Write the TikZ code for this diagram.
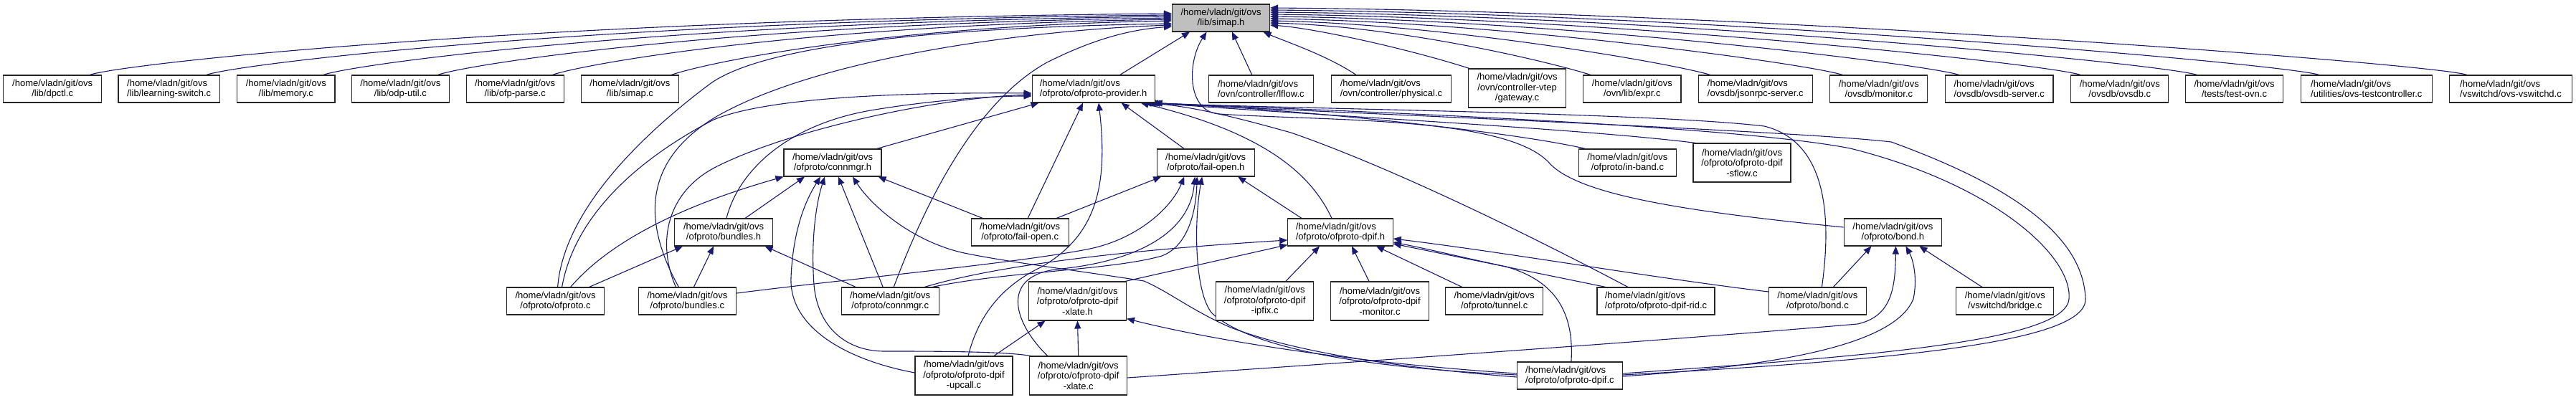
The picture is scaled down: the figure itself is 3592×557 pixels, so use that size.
\documentclass[tikz,border=0pt]{standalone}
\usepackage{fontspec}
\setmainfont{Liberation Sans}
\usetikzlibrary{arrows.meta}
\definecolor{navy}{HTML}{191970}
\definecolor{boxgray}{HTML}{BFBFBF}
\newcommand\nodefont{\fontsize{13}{14.5}\selectfont}
\pgfdeclarelayer{bg}
\pgfsetlayers{bg,main}
\tikzset{
  box/.style={draw=black!85, line width=1.1pt, fill=white, rectangle, inner sep=0pt,
              minimum height=38pt, align=center, font=\nodefont},
  box3/.style={box, minimum height=54pt},
  inc/.style={draw=navy, line width=1.1pt, -{Triangle[length=11pt,width=9pt]}},
}
\begin{document}
\begin{tikzpicture}[x=1pt,y=1pt]
\useasboundingbox (0,0) rectangle (3592,557);

% ---- row 0
\node[box, fill=boxgray, minimum width=136pt] (simaph) at (1702.5,532) {/home/vladn/git/ovs\\/lib/simap.h};
% ---- row 1
\node[box, minimum width=137pt] (dpctl) at (73.2,433) {/home/vladn/git/ovs\\/lib/dpctl.c};
\node[box, minimum width=141.5pt, align=left] (lswitch) at (235.7,433) {/home/vladn/git/ovs\\/lib/learning-switch.c};
\node[box, minimum width=136.4pt] (memory) at (398.8,433) {/home/vladn/git/ovs\\/lib/memory.c};
\node[box, minimum width=136.2pt] (odputil) at (558.4,433) {/home/vladn/git/ovs\\/lib/odp-util.c};
\node[box, minimum width=136pt] (ofpparse) at (718.2,433) {/home/vladn/git/ovs\\/lib/ofp-parse.c};
\node[box, minimum width=136pt] (simapc) at (878.4,433) {/home/vladn/git/ovs\\/lib/simap.c};
\node[box, minimum width=171pt, align=left] (provider) at (1524.6,433) {/home/vladn/git/ovs\\/ofproto/ofproto-provider.h};
\node[box, minimum width=146.4pt, align=left] (lflow) at (1758.4,433) {/home/vladn/git/ovs\\/ovn/controller/lflow.c};
\node[box, minimum width=167pt, align=left] (physical) at (1940,433) {/home/vladn/git/ovs\\/ovn/controller/physical.c};
\node[box3, minimum width=136pt] (gateway) at (2115.5,434) {/home/vladn/git/ovs\\/ovn/controller-vtep\\/gateway.c};
\node[box, minimum width=136.4pt] (expr) at (2275.8,433) {/home/vladn/git/ovs\\/ovn/lib/expr.c};
\node[box, minimum width=159pt, align=left] (jsonrpc) at (2447.8,433) {/home/vladn/git/ovs\\/ovsdb/jsonrpc-server.c};
\node[box, minimum width=136pt] (ovsdbmon) at (2619.8,433) {/home/vladn/git/ovs\\/ovsdb/monitor.c};
\node[box, minimum width=150.6pt, align=left] (ovsdbserver) at (2787.7,433) {/home/vladn/git/ovs\\/ovsdb/ovsdb-server.c};
\node[box, minimum width=136pt] (ovsdbc) at (2955.8,433) {/home/vladn/git/ovs\\/ovsdb/ovsdb.c};
\node[box, minimum width=136.7pt] (testovn) at (3115.5,433) {/home/vladn/git/ovs\\/tests/test-ovn.c};
\node[box, minimum width=182.8pt, align=left] (testctl) at (3299.8,433) {/home/vladn/git/ovs\\/utilities/ovs-testcontroller.c};
\node[box, minimum width=171pt, align=left] (vswitchd) at (3501,433) {/home/vladn/git/ovs\\/vswitchd/ovs-vswitchd.c};
% ---- row 2
\node[box, minimum width=136pt] (connmgrh) at (1161,330) {/home/vladn/git/ovs\\/ofproto/connmgr.h};
\node[box, minimum width=136pt] (failopenh) at (1681.2,330) {/home/vladn/git/ovs\\/ofproto/fail-open.h};
\node[box, minimum width=136pt] (inband) at (2269.4,330) {/home/vladn/git/ovs\\/ofproto/in-band.c};
\node[box3, minimum width=136pt] (sflow) at (2429,330) {/home/vladn/git/ovs\\/ofproto/ofproto-dpif\\-sflow.c};
% ---- row 3
\node[box, minimum width=136.5pt] (bundlesh) at (1009,233) {/home/vladn/git/ovs\\/ofproto/bundles.h};
\node[box, minimum width=136pt] (failopenc) at (1422.2,233) {/home/vladn/git/ovs\\/ofproto/fail-open.c};
\node[box, minimum width=146.4pt, align=left] (dpifh) at (1869,233) {/home/vladn/git/ovs\\/ofproto/ofproto-dpif.h};
\node[box, minimum width=136.4pt] (bondh) at (2639.4,233) {/home/vladn/git/ovs\\/ofproto/bond.h};
% ---- row 4
\node[box, minimum width=136.4pt] (ofprotoc) at (774.6,137) {/home/vladn/git/ovs\\/ofproto/ofproto.c};
\node[box, minimum width=136.4pt] (bundlesc) at (958.4,137) {/home/vladn/git/ovs\\/ofproto/bundles.c};
\node[box, minimum width=136pt] (connmgrc) at (1241.2,137) {/home/vladn/git/ovs\\/ofproto/connmgr.c};
\node[box3, minimum width=136pt] (xlateh) at (1502.5,137) {/home/vladn/git/ovs\\/ofproto/ofproto-dpif\\-xlate.h};
\node[box3, minimum width=136pt] (ipfix) at (1763.7,137) {/home/vladn/git/ovs\\/ofproto/ofproto-dpif\\-ipfix.c};
\node[box3, minimum width=136.5pt] (monitor) at (1924,137) {/home/vladn/git/ovs\\/ofproto/ofproto-dpif\\-monitor.c};
\node[box, minimum width=136.4pt] (tunnel) at (2083.7,137) {/home/vladn/git/ovs\\/ofproto/tunnel.c};
\node[box, minimum width=164pt, align=left] (rid) at (2309,137) {/home/vladn/git/ovs\\/ofproto/ofproto-dpif-rid.c};
\node[box, minimum width=136pt] (bondc) at (2534.4,137) {/home/vladn/git/ovs\\/ofproto/bond.c};
\node[box, minimum width=136pt] (bridge) at (2795.8,137) {/home/vladn/git/ovs\\/vswitchd/bridge.c};
% ---- row 5
\node[box3, minimum width=136pt] (upcall) at (1344,33) {/home/vladn/git/ovs\\/ofproto/ofproto-dpif\\-upcall.c};
\node[box3, minimum width=136pt] (xlatec) at (1503.7,33) {/home/vladn/git/ovs\\/ofproto/ofproto-dpif\\-xlate.c};
\node[box, minimum width=146.7pt, align=left] (dpifc) at (2188.9,33) {/home/vladn/git/ovs\\/ofproto/ofproto-dpif.c};

\begin{pgfonlayer}{bg}
\fill[white] (0,0) rectangle (3592,557);
% ===== into simap.h, from the left
\draw[inc] ([xshift=52pt]dpctl.north) .. controls (170,468) and (730,530) .. ([yshift=6pt]simaph.west);
\draw[inc] ([xshift=52pt]lswitch.north) .. controls (333,468) and (826,528) .. ([yshift=4pt]simaph.west);
\draw[inc] ([xshift=52pt]memory.north) .. controls (496,468) and (924,526) .. ([yshift=2pt]simaph.west);
\draw[inc] ([xshift=52pt]odputil.north) .. controls (655,468) and (1020,524) .. (simaph.west);
\draw[inc] ([xshift=52pt]ofpparse.north) .. controls (815,468) and (1116,522) .. ([yshift=-2pt]simaph.west);
\draw[inc] ([xshift=57.6pt]simapc.north) .. controls (981,468) and (1215,520) .. ([yshift=-4pt]simaph.west);
\draw[inc] ([xshift=3pt]ofprotoc.north) .. controls (785,250) and (870,350) .. (990,440)
   .. controls (1080,505) and (1400,520) .. ([yshift=-8pt]simaph.west);
\draw[inc] ([xshift=-12pt]bundlesc.north) .. controls (900,240) and (890,330) .. (1000,395)
   .. controls (1150,480) and (1450,516) .. ([yshift=-10pt]simaph.west);
\draw[inc] ([xshift=5pt]connmgrc.north) .. controls (1300,300) and (1370,420) .. (1460,470)
   .. controls (1530,505) and (1580,516) .. ([yshift=-12pt]simaph.west);
% ===== into simap.h, from below
\draw[inc] ([xshift=37pt]provider.north) -- ([xshift=-43.5pt]simaph.south);
\draw[inc] ([xshift=-12.7pt]lflow.north) -- ([xshift=15.5pt]simaph.south);
\draw[inc] ([xshift=-49pt]physical.north) .. controls (1850,480) and (1790,500) .. ([xshift=59pt]simaph.south);
\draw[inc] ([yshift=7pt]bondh.west) .. controls (2350,262) and (2200,285) .. (2160,330)
   .. controls (2100,395) and (1850,388) .. (1700,398)
   .. controls (1655,401) and (1655,470) .. ([xshift=-20pt]simaph.south);
% ===== into simap.h, from the right
\draw[inc] ([xshift=2pt]gateway.north west) .. controls (1960,490) and (1830,518) .. ([yshift=-10pt]simaph.east);
\draw[inc] ([xshift=11pt]expr.north west) .. controls (2170,468) and (1960,520) .. ([yshift=-7pt]simaph.east);
\draw[inc] ([xshift=17pt]jsonrpc.north west) .. controls (2335,468) and (2020,523) .. ([yshift=-4pt]simaph.east);
\draw[inc] ([xshift=18pt]ovsdbmon.north west) .. controls (2520,468) and (2100,526) .. ([yshift=-1pt]simaph.east);
\draw[inc] ([xshift=20pt]ovsdbserver.north west) .. controls (2682,468) and (2180,529) .. ([yshift=2pt]simaph.east);
\draw[inc] ([xshift=14pt]ovsdbc.north west) .. controls (2852,468) and (2250,532) .. ([yshift=5pt]simaph.east);
\draw[inc] ([xshift=17pt]testovn.north west) .. controls (3014,468) and (2320,535) .. ([yshift=8pt]simaph.east);
\draw[inc] ([xshift=26pt]testctl.north west) .. controls (3184,468) and (2380,538) .. ([yshift=11pt]simaph.east);
\draw[inc] ([xshift=25pt]vswitchd.north west) .. controls (3395,468) and (2438,541) .. ([yshift=14pt]simaph.east);

% ===== into ofproto-provider.h
\draw[inc] ([xshift=9pt]ofprotoc.north) .. controls (800,250) and (880,330) .. (995,390)
   .. controls (1080,425) and (1300,428) .. ([yshift=-6pt]provider.west);
\draw[inc] ([xshift=-16pt]bundlesc.north) .. controls (915,220) and (930,290) .. (1000,325)
   .. controls (1100,375) and (1300,420) .. ([yshift=-8pt]provider.west);
\draw[inc] ([xshift=4pt]bundlesh.north) .. controls (1030,320) and (1100,385) .. (1220,404)
   .. controls (1300,417) and (1380,423) .. ([yshift=-10pt]provider.west);
\draw[inc] ([xshift=-7pt]connmgrh.north east) -- ([xshift=10pt]provider.south west);
\draw[inc] ([xshift=11pt]failopenc.north) -- ([xshift=-14.6pt]provider.south);
\draw[inc] ([xshift=-30pt]failopenh.north) -- ([xshift=39pt]provider.south);
\draw[inc] ([xshift=6pt]upcall.north) .. controls (1365,120) and (1400,160) .. (1453,185)
   .. controls (1530,230) and (1545,300) .. ([xshift=7.4pt]provider.south);
\draw[inc] ([xshift=10pt]inband.north west) .. controls (2100,375) and (1800,405) .. ([xshift=-1pt]provider.south east);
\draw[inc] ([xshift=4pt]sflow.north west) .. controls (2200,378) and (1850,395) .. ([xshift=-4pt]provider.south east);
\draw[inc] ([xshift=-12pt]dpifh.north) .. controls (1830,310) and (1770,370) .. ([xshift=-20pt]provider.south east);
\draw[inc] ([xshift=-39pt]rid.north) .. controls (2150,220) and (1950,320) .. (1800,372)
   .. controls (1700,400) and (1650,410) .. ([xshift=-16pt]provider.south east);
\draw[inc] ([xshift=6pt]bondc.north) .. controls (2555,260) and (2545,360) .. (2460,381)
   .. controls (2300,400) and (1800,405) .. ([xshift=-7pt]provider.south east);
\draw[inc] ([yshift=3pt]dpifc.east) .. controls (2600,60) and (2880,80) .. (2885,140)
   .. controls (2890,200) and (2780,300) .. (2580,350)
   .. controls (2400,385) and (1800,405) .. ([xshift=-10pt]provider.south east);
\draw[inc] ([yshift=1pt]dpifc.east) .. controls (2650,55) and (2910,80) .. (2908,140)
   .. controls (2905,230) and (2800,300) .. (2637,359)
   .. controls (2500,375) and (1850,400) .. ([xshift=-13pt]provider.south east);

% ===== into connmgr.h
\draw[inc] ([xshift=21pt]ofprotoc.north) .. controls (850,220) and (950,270) .. (connmgrh.south west);
\draw[inc] ([xshift=30pt]bundlesh.north) -- ([xshift=-39pt]connmgrh.south);
\draw[inc] ([yshift=4pt]upcall.west) .. controls (1180,55) and (1100,100) .. (1103,170)
   .. controls (1106,240) and (1125,280) .. ([xshift=-17pt]connmgrh.south);
\draw[inc] ([xshift=2pt]xlatec.north west) .. controls (1400,67) and (1300,67) .. (1231,67)
   .. controls (1180,68) and (1140,100) .. (1135,160)
   .. controls (1130,230) and (1140,280) .. ([xshift=-11pt]connmgrh.south);
\draw[inc] ([xshift=-10pt]connmgrc.north) -- ([xshift=8pt]connmgrh.south);
\draw[inc] ([xshift=-52pt]failopenc.north) -- ([xshift=-5pt]connmgrh.south east);
\draw[inc] ([yshift=-2pt]dpifc.west) .. controls (1900,48) and (1780,75) .. (1714,101)
   .. controls (1660,125) and (1630,150) .. (1595,165)
   .. controls (1500,180) and (1400,192) .. (1340,205)
   .. controls (1270,222) and (1215,270) .. ([xshift=28pt]connmgrh.south);

% ===== into bundles.h
\draw[inc] ([xshift=47pt]ofprotoc.north) -- ([xshift=-57pt]bundlesh.south);
\draw[inc] ([xshift=9pt]bundlesc.north) -- ([xshift=-14pt]bundlesh.south);
\draw[inc] ([xshift=-48pt]connmgrc.north) -- ([xshift=57.6pt]bundlesh.south);

% ===== into fail-open.h
\draw[inc] ([xshift=51pt]failopenc.north) -- ([xshift=-62pt]failopenh.south);
\draw[inc] ([yshift=11pt]bundlesc.east) .. controls (1200,170) and (1420,190) .. (1520,210)
   .. controls (1590,225) and (1635,270) .. ([xshift=-30pt]failopenh.south);
\draw[inc] ([xshift=59pt]connmgrc.north) .. controls (1400,178) and (1550,180) .. (1620,200)
   .. controls (1660,215) and (1668,270) .. ([xshift=-12pt]failopenh.south);
\draw[inc] ([yshift=1pt]dpifc.west) .. controls (1880,45) and (1740,75) .. (1690,120)
   .. controls (1665,150) and (1665,250) .. ([xshift=-5pt]failopenh.south);
\draw[inc] ([xshift=-43pt]xlatec.north) .. controls (1410,110) and (1395,175) .. (1480,182)
   .. controls (1600,195) and (1660,240) .. ([xshift=-15pt]failopenh.south);
\draw[inc] ([xshift=-54pt]dpifh.north) -- ([xshift=45pt]failopenh.south);

% ===== into ofproto-dpif.h
\draw[inc] ([xshift=48pt]connmgrc.north) .. controls (1400,190) and (1600,210) .. ([yshift=-11pt]dpifh.west);
\draw[inc] ([xshift=-2pt]xlateh.north east) -- ([yshift=2pt]dpifh.south west);
\draw[inc] ([xshift=29pt]ipfix.north) -- ([xshift=-29pt]dpifh.south);
\draw[inc] ([xshift=-15pt]monitor.north) -- ([xshift=16pt]dpifh.south);
\draw[inc] ([xshift=-45pt]tunnel.north) -- ([xshift=50pt]dpifh.south);
\draw[inc] ([xshift=-70pt]rid.north) -- ([yshift=-16pt]dpifh.east);
\draw[inc] ([yshift=13pt]bondc.west) .. controls (2300,170) and (2100,205) .. ([yshift=-9pt]dpifh.east);
\draw[inc] ([xshift=2pt]dpifc.north) .. controls (2195,120) and (2170,165) .. (2100,185)
   .. controls (2030,200) and (1990,210) .. ([yshift=-14pt]dpifh.east);

% ===== into ofproto-dpif-xlate.h
\draw[inc] ([xshift=42pt]upcall.north) -- ([xshift=-45pt]xlateh.south);
\draw[inc] (xlatec.north) -- (xlateh.south);
\draw[inc] ([yshift=3pt]dpifc.west) .. controls (1900,50) and (1700,80) .. ([yshift=3pt]xlateh.south east);

% ===== into bond.h
\draw[inc] ([xshift=22pt]bondc.north) -- ([xshift=-30pt]bondh.south);
\draw[inc] ([xshift=-32pt]bridge.north) -- ([xshift=37pt]bondh.south);
\draw[inc] ([yshift=-1pt]dpifc.east) .. controls (2450,45) and (2640,70) .. (2668,140)
   .. controls (2675,175) and (2665,200) .. ([xshift=18pt]bondh.south);
\draw[inc] ([yshift=-3pt]xlatec.east) .. controls (1800,46) and (2300,80) .. (2590,105)
   .. controls (2635,115) and (2643,150) .. ([xshift=4pt]bondh.south);
\end{pgfonlayer}
\end{tikzpicture}
\end{document}
